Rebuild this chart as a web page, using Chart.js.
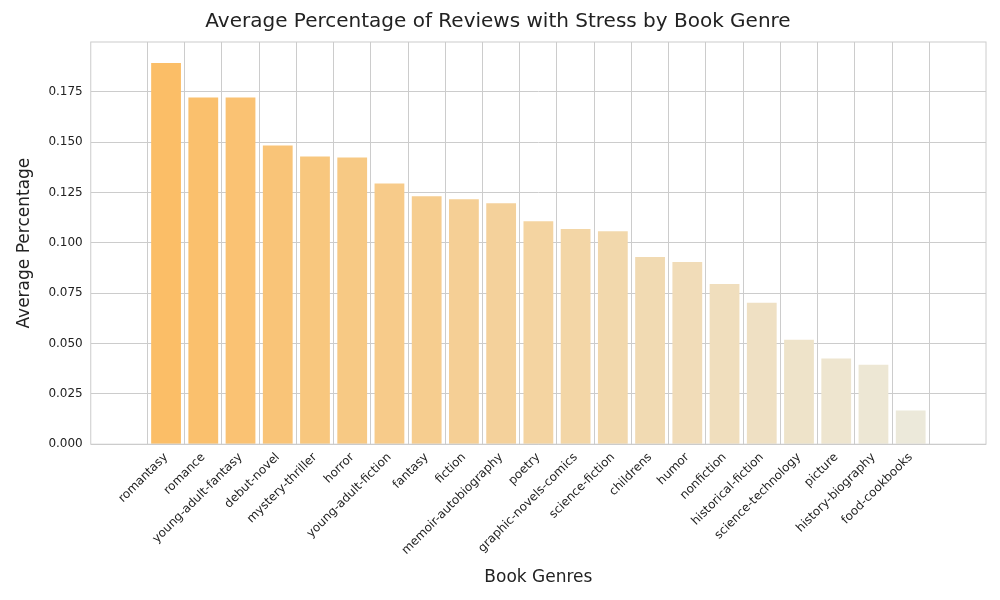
<!DOCTYPE html>
<html><head><meta charset="utf-8">
<script src="https://cdn.jsdelivr.net/npm/chart.js@4"></script>
<style>body{margin:0;background:#fff}</style>
</head><body><canvas id="c" width="1000" height="600"></canvas>
<script>
const genres=["romantasy","romance","young-adult-fantasy","debut-novel","mystery-thriller","horror","young-adult-fiction","fantasy","fiction","memoir-autobiography","poetry","graphic-novels-comics","science-fiction","childrens","humor","nonfiction","historical-fiction","science-technology","picture","history-biography","food-cookbooks"];
const values=[0.1893,0.1722,0.1722,0.1483,0.1429,0.1424,0.1295,0.1231,0.1216,0.1196,0.1107,0.1068,0.1058,0.0929,0.0905,0.0796,0.0702,0.0519,0.0425,0.0395,0.0168];
</script>
<script>
const n=genres.length;
const c0=[251,190,103],c1=[236,233,218];
const colors=genres.map((g,i)=>{const t=i/(n-1);return `rgb(${c0.map((a,k)=>Math.round(a+(c1[k]-a)*t)).join(',')})`;});
const boxPlugin={id:'box',afterDraw(ch){const a=ch.chartArea,x=ch.ctx;x.save();x.strokeStyle='#cccccc';x.lineWidth=1;x.strokeRect(a.left,a.top,a.right-a.left,a.bottom-a.top);x.restore();}};
new Chart(document.getElementById('c'),{
type:'bar',
data:{datasets:[{data:values.map((v,i)=>({x:i,y:v})),backgroundColor:colors,borderWidth:0,barPercentage:0.8,categoryPercentage:1}]},
options:{responsive:false,animation:false,devicePixelRatio:1,
layout:{padding:{left:10,right:14,top:0,bottom:8}},
plugins:{legend:{display:false},tooltip:{enabled:false},
title:{display:true,text:'Average Percentage of Reviews with Stress by Book Genre',color:'#222',font:{family:'DejaVu Sans',size:20,weight:'normal'},padding:{top:10,bottom:8}}},
scales:{
x:{type:'linear',min:-1.45,max:n-1+1.45,grid:{color:'#cccccc',drawTicks:false},border:{display:false},
afterBuildTicks(s){s.ticks=genres.map((g,i)=>({value:i}));},
ticks:{autoSkip:false,maxRotation:45,minRotation:45,color:'#222',padding:6,font:{family:'DejaVu Sans',size:12},callback:(v)=>genres[v]},
title:{display:true,text:'Book Genres',color:'#222',font:{family:'DejaVu Sans',size:17},padding:{top:4}}},
y:{min:0,max:0.1997,grid:{color:'#cccccc',drawTicks:false},border:{display:false},
afterBuildTicks(s){const t=[];for(let v=0;v<=0.1751;v+=0.025)t.push({value:+v.toFixed(3)});s.ticks=t;},
ticks:{color:'#222',padding:8,font:{family:'DejaVu Sans',size:12},callback:v=>v.toFixed(3)},
title:{display:true,text:'Average Percentage',color:'#222',font:{family:'DejaVu Sans',size:17},padding:{bottom:6}}}
}},
plugins:[boxPlugin]});
</script></body></html>
